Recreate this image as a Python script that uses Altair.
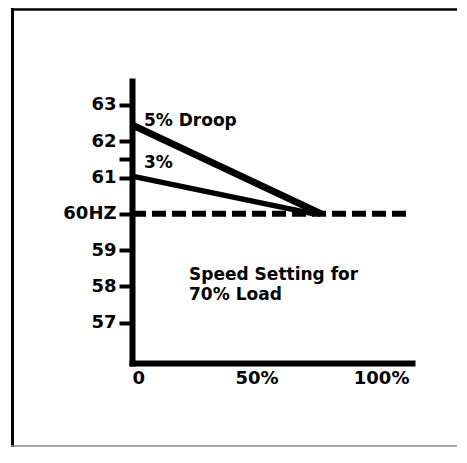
import altair as alt
import pandas as pd

# --- data ---
droop5_load = [0, 76]
droop5_freq = [62.45, 60.0]
droop3_load = [0, 73]
droop3_freq = [61.04, 60.0]
base_load = [0, 112]
base_freq = [60.0, 60.0]

y_ticks = [57, 58, 59, 60, 61, 61.5, 62, 63]
x_ticks = [0, 50, 100]

ann_text = ["5% Droop", "3%", "Speed Setting for", "70% Load"]
ann_x = [4.8, 4.8, 22.9, 22.9]
ann_y = [62.56, 61.40, 58.31, 57.76]

FONT = "DejaVu Sans"

d5 = pd.DataFrame({"load": droop5_load, "freq": droop5_freq})
d3 = pd.DataFrame({"load": droop3_load, "freq": droop3_freq})
db = pd.DataFrame({"load": base_load, "freq": base_freq})
ann = pd.DataFrame({"text": ann_text, "load": ann_x, "freq": ann_y})
one = pd.DataFrame({"a": [0]})

xscale = alt.Scale(domain=[0, 112.4], nice=False, zero=False)
yscale = alt.Scale(domain=[55.89, 63.66], nice=False, zero=False)

xaxis = alt.Axis(
    values=x_ticks,
    labelExpr="datum.value == 0 ? '0' : datum.value + '%'",
    ticks=False,
    tickSize=0,
    grid=False,
    title=None,
    domainColor="black",
    domainWidth=6,
    domainCap="square",
    labelFont=FONT,
    labelFontSize=18,
    labelFontWeight="bold",
    labelColor="black",
    labelPadding=6,
    labelAlign={"condition": {"test": "datum.value === 0", "value": "left"}, "value": "center"},
)
yaxis = alt.Axis(
    values=y_ticks,
    labelExpr="datum.value == 60 ? '60HZ' : (datum.value == 61.5 ? '' : datum.label)",
    tickSize=13,
    tickWidth=4,
    tickColor="black",
    grid=False,
    title=None,
    domainColor="black",
    domainWidth=6,
    domainCap="square",
    labelFont=FONT,
    labelFontSize=18,
    labelFontWeight="bold",
    labelColor="black",
    labelPadding=3,
)

base = alt.Chart(db).mark_line(
    color="black", strokeWidth=6, strokeDash=[14, 6], strokeCap="butt"
).encode(
    x=alt.X("load:Q", scale=xscale, axis=xaxis),
    y=alt.Y("freq:Q", scale=yscale, axis=yaxis),
)

l5 = alt.Chart(d5).mark_line(color="black", strokeWidth=7, strokeCap="butt").encode(
    x=alt.X("load:Q", scale=xscale), y=alt.Y("freq:Q", scale=yscale)
)
l3 = alt.Chart(d3).mark_line(color="black", strokeWidth=5.5, strokeCap="butt").encode(
    x=alt.X("load:Q", scale=xscale), y=alt.Y("freq:Q", scale=yscale)
)

labels = alt.Chart(ann).mark_text(
    align="left", baseline="middle", font=FONT, fontSize=17, fontWeight="bold", color="black"
).encode(
    x=alt.X("load:Q", scale=xscale), y=alt.Y("freq:Q", scale=yscale), text="text:N"
)

# decorative frame around the figure
frame_left = alt.Chart(one).mark_rule(color="black", strokeWidth=3).encode(
    x=alt.value(-119.5), y=alt.value(-73), y2=alt.value(366)
)
frame_top = alt.Chart(one).mark_rule(color="black", strokeWidth=2.5).encode(
    x=alt.value(-121), x2=alt.value(325), y=alt.value(-71.5)
)
frame_bottom = alt.Chart(one).mark_rule(color="#888888", strokeWidth=1.5).encode(
    x=alt.value(-121), x2=alt.value(325), y=alt.value(365)
)

chart = (
    alt.layer(frame_left, frame_top, frame_bottom, base, l3, l5, labels)
    .properties(
        width=280,
        height=282,
        autosize=alt.AutoSizeParams(type="none"),
        padding={"left": 124, "top": 73, "right": 45, "bottom": 85},
        background="white",
    )
    .configure_view(stroke=None)
)

chart.save("out.html", embed_options={"renderer": "svg", "actions": False})
